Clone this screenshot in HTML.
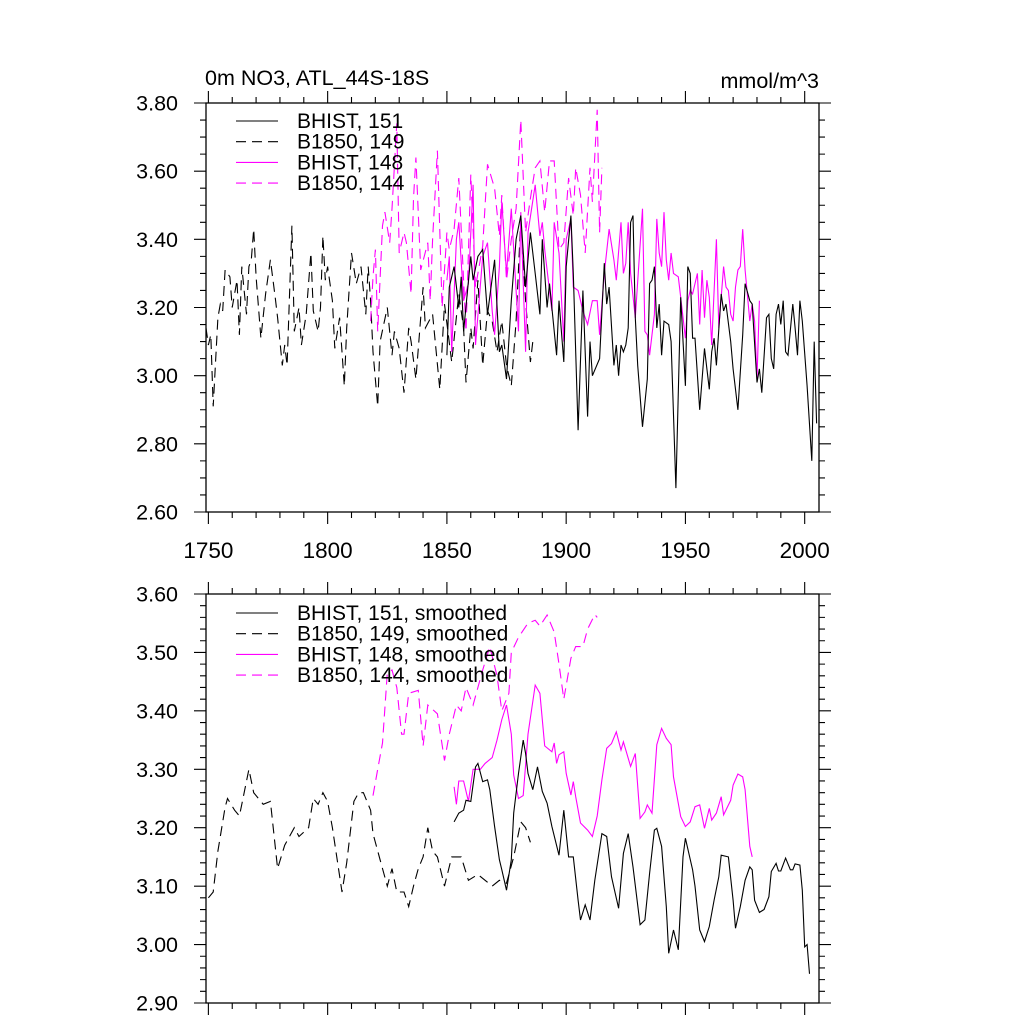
<!DOCTYPE html>
<html><head><meta charset="utf-8"><style>
html,body{margin:0;padding:0;background:#fff;}
svg text{font-family:"Liberation Sans",sans-serif;fill:#000;}
</style></head><body>
<svg id="chart" width="1024" height="1024" viewBox="0 0 1024 1024" xmlns="http://www.w3.org/2000/svg">
<text x="205" y="85" font-size="21.5">0m NO3, ATL_44S-18S</text>
<text x="819" y="88" font-size="21.5" text-anchor="end">mmol/m^3</text>
<g id="top"></g>
<g id="bot"></g>
</svg>
<script>
// ---- Top panel raw data (year, value) ----
const hist151Years=[1850,1851,1853,1855,1856,1857,1860,1861,1863,1865,1867,1870,1872,1873,1875,1877,1879,1881,1883,1885,1887,1889,1890,1892,1893,1896,1897,1899,1900,1902,1903,1905,1907,1909,1910,1911,1914,1916,1917,1918,1920,1921,1922,1923,1924,1925,1926,1927,1928,1929,1930,1932,1934,1935,1936,1937,1938,1939,1940,1941,1943,1944,1946,1948,1950,1951,1952,1953,1954,1956,1958,1960,1961,1962,1963,1965,1966,1967,1969,1970,1972,1974,1975,1977,1978,1980,1981,1982,1984,1985,1986,1987,1988,1989,1990,1991,1992,1993,1995,1996,1997,1998,1999,2001,2003,2004,2005];
const hist151Vals=[3.06,3.26,3.32,3.20,3.29,3.13,3.35,3.28,3.35,3.37,3.18,3.34,3.07,3.09,2.99,3.22,3.40,3.47,3.26,3.42,3.30,3.18,3.40,3.20,3.27,3.06,3.22,3.04,3.32,3.47,3.30,2.84,3.25,2.88,3.10,3.00,3.05,3.33,3.21,3.26,3.03,3.09,3.00,3.09,3.07,3.09,3.14,3.45,3.47,3.17,3.03,2.85,2.99,3.27,3.28,3.32,3.14,3.21,3.06,3.16,3.15,3.10,2.67,3.23,2.97,3.32,3.30,3.11,3.11,2.90,3.08,2.96,3.07,3.11,3.03,3.24,3.19,3.21,3.10,3.02,2.90,3.12,3.27,3.22,3.21,2.98,3.02,2.95,3.17,3.18,3.05,3.02,3.18,3.21,3.15,3.22,3.07,3.06,3.21,3.14,3.06,3.22,3.16,2.97,2.75,3.10,2.86];
const b1850_149Years=[1749,1750,1751,1752,1754,1755,1756,1757,1759,1760,1762,1763,1764,1766,1767,1768,1769,1770,1772,1774,1776,1778,1779,1781,1782,1783,1785,1786,1788,1789,1791,1793,1794,1796,1797,1798,1799,1800,1802,1803,1805,1806,1807,1808,1810,1812,1814,1816,1817,1818,1819,1821,1822,1825,1827,1828,1830,1832,1834,1835,1837,1840,1841,1844,1847,1849,1852,1855,1857,1858,1860,1861,1863,1865,1867,1869,1871,1873,1875,1877,1879,1881,1883,1885,1886];
const b1850_149Vals=[3.14,3.09,3.12,2.91,3.17,3.21,3.19,3.31,3.29,3.20,3.28,3.12,3.32,3.18,3.32,3.34,3.43,3.29,3.11,3.24,3.34,3.23,3.17,3.03,3.09,3.03,3.44,3.13,3.20,3.09,3.18,3.36,3.19,3.13,3.20,3.41,3.28,3.32,3.22,3.08,3.17,3.07,2.97,3.14,3.36,3.27,3.32,3.18,3.32,3.22,3.07,2.91,3.10,3.20,3.06,3.13,3.08,2.95,3.14,3.10,2.99,3.26,3.14,3.18,2.96,3.21,3.04,3.24,3.14,2.98,3.14,3.08,3.28,3.03,3.19,3.16,3.07,3.16,3.03,2.97,3.16,3.46,3.22,3.04,3.10];
const hist148Years=[1850,1851,1852,1854,1855,1857,1859,1861,1862,1865,1867,1869,1870,1872,1873,1875,1877,1880,1881,1883,1884,1887,1889,1890,1891,1894,1895,1897,1899,1900,1902,1903,1905,1907,1909,1911,1913,1914,1916,1918,1920,1921,1923,1924,1925,1926,1927,1929,1932,1933,1934,1935,1937,1938,1939,1940,1941,1942,1943,1944,1945,1947,1948,1950,1951,1952,1953,1955,1956,1957,1958,1959,1960,1961,1963,1964,1966,1967,1968,1969,1970,1971,1972,1973,1974,1975,1977,1978,1979,1980,1981];
const hist148Vals=[3.28,3.35,3.07,3.40,3.45,3.22,3.27,3.56,3.09,3.35,3.39,3.19,3.12,3.32,3.51,3.30,3.49,3.13,3.48,3.07,3.42,3.56,3.41,3.45,3.37,3.19,3.45,3.36,3.10,3.40,3.46,3.26,3.25,3.19,3.15,3.22,3.22,3.12,3.30,3.43,3.34,3.28,3.45,3.30,3.33,3.45,3.30,3.17,3.49,3.13,3.12,3.06,3.18,3.46,3.36,3.32,3.48,3.34,3.28,3.36,3.30,3.29,3.23,3.11,3.22,3.25,3.24,3.30,3.15,3.31,3.17,3.28,3.23,3.09,3.40,3.14,3.32,3.26,3.25,3.18,3.16,3.26,3.31,3.32,3.43,3.31,3.16,3.21,3.16,2.99,3.22];
const b1850_144Years=[1818,1819,1820,1821,1823,1824,1826,1827,1829,1830,1832,1833,1835,1836,1837,1839,1842,1843,1844,1846,1848,1850,1851,1853,1855,1858,1860,1862,1865,1867,1870,1872,1873,1875,1877,1879,1881,1883,1885,1887,1889,1891,1893,1895,1897,1899,1901,1903,1904,1906,1908,1910,1911,1913,1914,1915];
const b1850_144Vals=[3.16,3.29,3.37,3.13,3.44,3.48,3.39,3.49,3.74,3.36,3.42,3.39,3.24,3.52,3.64,3.31,3.39,3.22,3.40,3.66,3.20,3.42,3.37,3.43,3.58,3.13,3.59,3.26,3.38,3.62,3.55,3.41,3.53,3.28,3.40,3.49,3.75,3.42,3.52,3.61,3.63,3.48,3.63,3.63,3.37,3.39,3.58,3.47,3.61,3.53,3.36,3.61,3.51,3.78,3.42,3.61];
// ---- Bottom panel smoothed data ----
const hist151sYears=[1853,1855,1857,1858,1860,1862,1863,1865,1867,1868,1870,1872,1873,1875,1877,1878,1880,1882,1883,1884,1886,1888,1890,1892,1894,1897,1899,1901,1903,1905,1906,1908,1910,1912,1915,1917,1919,1922,1924,1926,1928,1931,1933,1935,1937,1938,1940,1942,1943,1945,1947,1949,1950,1953,1954,1956,1958,1960,1962,1964,1965,1968,1970,1971,1973,1975,1977,1978,1979,1981,1983,1985,1986,1988,1989,1990,1992,1994,1995,1996,1998,1999,2000,2001,2002];
const hist151sVals=[3.210,3.225,3.230,3.247,3.245,3.304,3.310,3.279,3.282,3.265,3.202,3.145,3.128,3.093,3.145,3.225,3.293,3.350,3.327,3.293,3.265,3.304,3.262,3.242,3.202,3.153,3.230,3.150,3.150,3.076,3.042,3.068,3.042,3.110,3.190,3.185,3.116,3.062,3.156,3.190,3.133,3.034,3.042,3.122,3.196,3.199,3.168,3.065,2.985,3.025,2.991,3.150,3.182,3.128,3.100,3.025,3.005,3.031,3.076,3.116,3.153,3.150,3.076,3.028,3.065,3.110,3.133,3.128,3.076,3.055,3.060,3.082,3.125,3.139,3.126,3.126,3.148,3.128,3.128,3.138,3.136,3.093,2.996,3.000,2.950];
const b1850_149sYears=[1750,1752,1754,1757,1758,1761,1763,1764,1767,1769,1773,1776,1779,1782,1786,1788,1792,1794,1796,1798,1800,1802,1806,1808,1811,1813,1815,1818,1819,1822,1825,1827,1829,1832,1834,1836,1838,1840,1842,1844,1846,1849,1852,1856,1859,1863,1869,1872,1875,1878,1881,1883,1885];
const b1850_149sVals=[3.08,3.09,3.16,3.235,3.25,3.23,3.22,3.24,3.30,3.26,3.24,3.245,3.13,3.17,3.20,3.185,3.20,3.25,3.24,3.26,3.245,3.20,3.09,3.14,3.245,3.26,3.26,3.23,3.19,3.145,3.10,3.13,3.09,3.09,3.065,3.10,3.13,3.15,3.20,3.16,3.15,3.10,3.15,3.15,3.11,3.12,3.10,3.11,3.105,3.15,3.21,3.20,3.175];
const hist148sYears=[1853,1854,1855,1857,1859,1861,1864,1866,1869,1871,1873,1875,1877,1878,1880,1882,1884,1887,1889,1891,1894,1895,1896,1897,1899,1900,1902,1903,1904,1906,1909,1911,1913,1915,1917,1919,1921,1923,1924,1927,1929,1931,1933,1934,1936,1938,1940,1942,1944,1945,1948,1950,1952,1954,1956,1958,1960,1961,1963,1965,1966,1969,1970,1972,1974,1975,1977,1978];
const hist148sVals=[3.27,3.24,3.28,3.28,3.245,3.30,3.30,3.31,3.32,3.35,3.385,3.41,3.36,3.29,3.25,3.255,3.36,3.444,3.43,3.34,3.33,3.345,3.31,3.325,3.33,3.293,3.256,3.279,3.253,3.208,3.196,3.185,3.220,3.282,3.336,3.344,3.364,3.333,3.347,3.305,3.327,3.216,3.227,3.239,3.225,3.342,3.370,3.353,3.342,3.287,3.219,3.202,3.210,3.236,3.239,3.199,3.233,3.213,3.225,3.253,3.222,3.247,3.273,3.292,3.287,3.265,3.168,3.150];
const b1850_144sYears=[1819,1821,1823,1825,1827,1829,1831,1832,1834,1838,1840,1842,1846,1849,1851,1854,1856,1858,1861,1865,1868,1871,1873,1876,1877,1880,1884,1887,1889,1892,1895,1897,1899,1902,1904,1907,1909,1912,1913];
const b1850_144sVals=[3.255,3.30,3.345,3.465,3.47,3.44,3.36,3.36,3.43,3.435,3.34,3.41,3.395,3.315,3.36,3.41,3.40,3.44,3.41,3.47,3.51,3.46,3.40,3.43,3.50,3.526,3.55,3.555,3.545,3.564,3.535,3.48,3.42,3.49,3.51,3.51,3.54,3.565,3.56];
const xTickLabels=["1750","1800","1850","1900","1950","2000"];
const topYTickLabels=["2.60","2.80","3.00","3.20","3.40","3.60","3.80"];
const botYTickLabels=["2.90","3.00","3.10","3.20","3.30","3.40","3.50","3.60"];

const NS="http://www.w3.org/2000/svg";
const X0=1749,X1=2006,L=206,R=819;
function xs(yr){return L+(yr-X0)/(X1-X0)*(R-L);}
function mk(tag,attrs,parent){const e=document.createElementNS(NS,tag);for(const k in attrs)e.setAttribute(k,attrs[k]);parent.appendChild(e);return e;}

function panel(g,top,bot,ymin,ymax,yMajor,yMinor,yLabels,showXLabels,series,legend){
  const ys=v=>bot-(v-ymin)/(ymax-ymin)*(bot-top);
  series.forEach(s=>{
    let d="";
    s.years.forEach((yr,i)=>{d+=(i?"L":"M")+xs(yr).toFixed(1)+","+ys(s.vals[i]).toFixed(1);});
    const p=mk("path",{d:d,fill:"none",stroke:s.color,"stroke-width":"1.1"},g);
    if(s.dash)p.setAttribute("stroke-dasharray","10 6");
    
    
  });
  const fr=mk("rect",{x:L,y:top,width:R-L,height:bot-top,fill:"none",stroke:"#000","stroke-width":"1.3"},g);
  
  
  let tk="";
  for(let yr=1750;yr<=2000;yr+=10){
    const x=xs(yr),len=(yr%50===0)?12:6;
    tk+=`M${x},${bot}v${len}M${x},${top}v${-len}`;
  }
  const n=Math.round((ymax-ymin)/yMinor);
  for(let i=0;i<=n;i++){
    const v=ymin+i*yMinor,y=ys(v);
    const maj=Math.abs(Math.round(i*yMinor/yMajor)*yMajor-i*yMinor)<1e-6;
    const len=maj?12:6;
    tk+=`M${L},${y}h${-len}M${R},${y}h${len}`;
  }
  const tp=mk("path",{d:tk,stroke:"#000","stroke-width":"1.1",fill:"none"},g);
  
  
  yLabels.forEach((lab,i)=>{
    const t=mk("text",{x:178,y:ys(ymin+i*yMajor)+7.5,"font-size":"21.5","text-anchor":"end"},g);
    t.textContent=lab;
    
    
  });
  if(showXLabels){
    xTickLabels.forEach(lab=>{
      const t=mk("text",{x:xs(+lab),y:bot+46,"font-size":"22.5","text-anchor":"middle"},g);
      t.textContent=lab;
      
      
    });
  }
  legend.rows.forEach((r,i)=>{
    const y=legend.y+i*20.7;
    const ln=mk("line",{x1:236,x2:278,y1:y,y2:y,stroke:r.color,"stroke-width":"1.1"},g);
    if(r.dash)ln.setAttribute("stroke-dasharray","10 6");
    
    
    const t=mk("text",{x:297,y:y+7,"font-size":"21"},g);
    t.textContent=r.label;
    
    
  });
}
const M="#ff00ff";
panel(document.getElementById("top"),103,512,2.6,3.8,0.2,0.05,topYTickLabels,true,[
  {name:"b1850-149-line",years:b1850_149Years,vals:b1850_149Vals,color:"#000",dash:true},
  {name:"b1850-144-line",years:b1850_144Years,vals:b1850_144Vals,color:M,dash:true},
  {name:"bhist-148-line",years:hist148Years,vals:hist148Vals,color:M,dash:false},
  {name:"bhist-151-line",years:hist151Years,vals:hist151Vals,color:"#000",dash:false}
],{y:121,rows:[{label:"BHIST, 151",color:"#000"},{label:"B1850, 149",color:"#000",dash:true},{label:"BHIST, 148",color:M},{label:"B1850, 144",color:M,dash:true}]});
panel(document.getElementById("bot"),594,1003,2.9,3.6,0.1,0.02,botYTickLabels,false,[
  {name:"b1850-149-smoothed-line",years:b1850_149sYears,vals:b1850_149sVals,color:"#000",dash:true},
  {name:"b1850-144-smoothed-line",years:b1850_144sYears,vals:b1850_144sVals,color:M,dash:true},
  {name:"bhist-148-smoothed-line",years:hist148sYears,vals:hist148sVals,color:M,dash:false},
  {name:"bhist-151-smoothed-line",years:hist151sYears,vals:hist151sVals,color:"#000",dash:false}
],{y:613,rows:[{label:"BHIST, 151, smoothed",color:"#000"},{label:"B1850, 149, smoothed",color:"#000",dash:true},{label:"BHIST, 148, smoothed",color:M},{label:"B1850, 144, smoothed",color:M,dash:true}]});
</script>
</body></html>
